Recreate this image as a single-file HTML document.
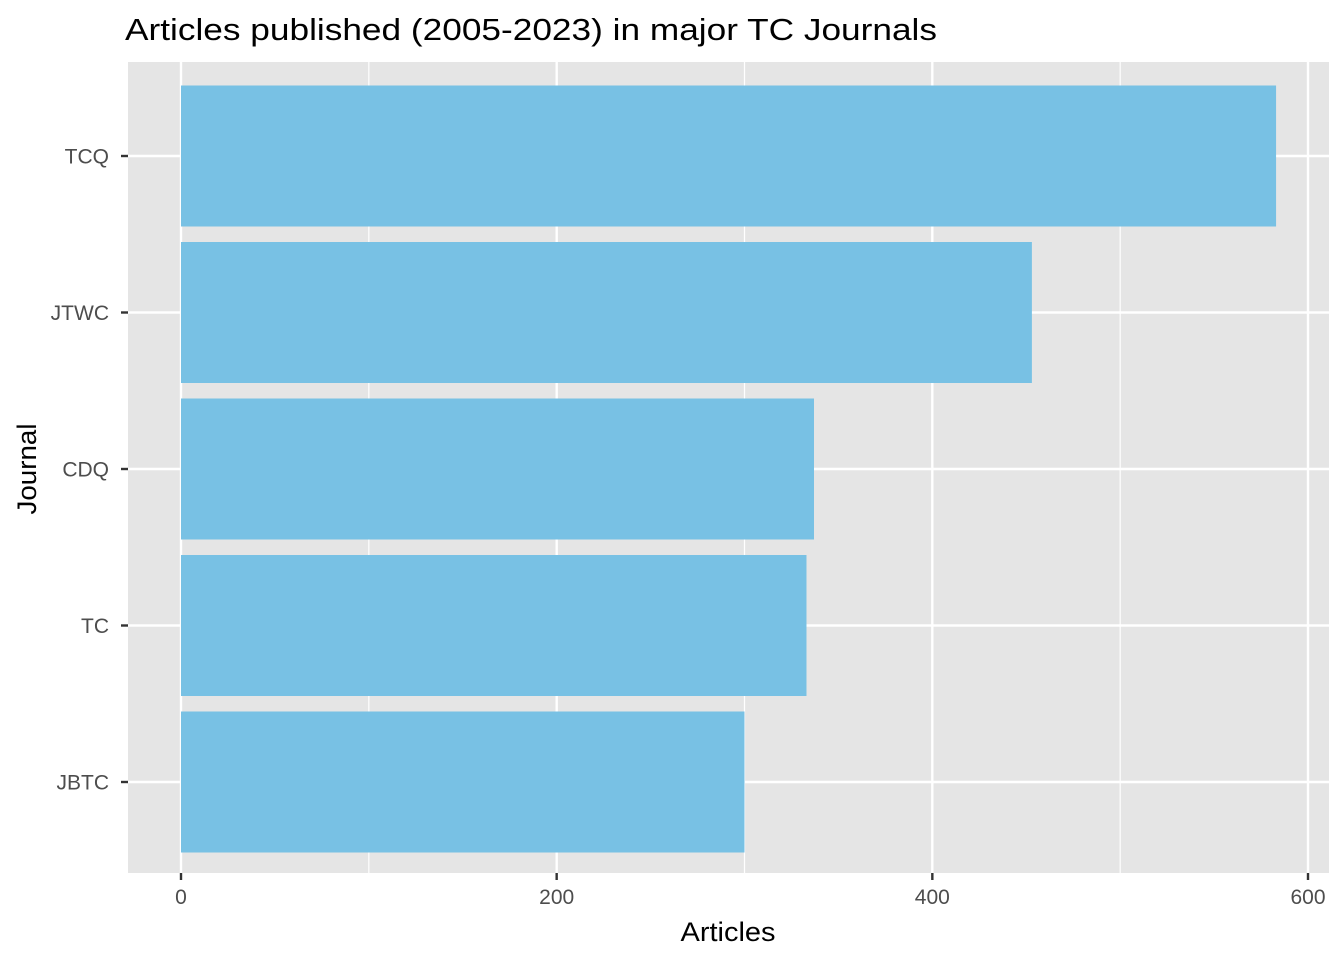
<!DOCTYPE html>
<html><head><meta charset="utf-8"><style>
body{margin:0;background:#fff;}
svg{display:block;font-family:"Liberation Sans",Arial,sans-serif;}
</style></head><body>
<svg id="chart" width="1344" height="960">
<text x="125" y="40" font-size="31" textLength="812" lengthAdjust="spacingAndGlyphs" fill="#000">Articles published (2005-2023) in major TC Journals</text>
<rect x="128" y="62" width="1201" height="811" fill="#e5e5e5"/>
<g id="grid"></g><g id="bars"></g><g id="axes"></g>
<text x="728" y="941" font-size="27" text-anchor="middle" textLength="95" lengthAdjust="spacingAndGlyphs" fill="#000">Articles</text>
<text transform="translate(36,469) rotate(-90)" font-size="27" text-anchor="middle" textLength="91" lengthAdjust="spacingAndGlyphs" fill="#000">Journal</text>
</svg>
<script>
const categories=["TCQ","JTWC","CDQ","TC","JBTC"];
const values=[583,453,337,333,300];
const xTicks=[0,200,400,600];
const xMinor=[100,300,500];
const ns="http://www.w3.org/2000/svg";
const x=v=>181+v*(1308-181)/600;
const step=156.5, y0=156;
const y=i=>y0+i*step;
function mk(tag,attrs,parent){const e=document.createElementNS(ns,tag);for(const k in attrs)e.setAttribute(k,attrs[k]);document.getElementById(parent).appendChild(e);return e;}
xMinor.forEach(v=>{const l=mk('line',{x1:x(v),x2:x(v),y1:62,y2:873,stroke:'#fff','stroke-width':1.2},'grid');

});
xTicks.forEach(v=>{const l=mk('line',{x1:x(v),x2:x(v),y1:62,y2:873,stroke:'#fff','stroke-width':2.4},'grid');


const t=mk('line',{x1:x(v),x2:x(v),y1:873,y2:880,stroke:'#333','stroke-width':2.4},'axes');


const tx=mk('text',{x:x(v),y:904,'font-size':21,'text-anchor':'middle',fill:'#4d4d4d'},'axes');tx.textContent=v;

});
categories.forEach((c,i)=>{const l=mk('line',{x1:128,x2:1329,y1:y(i),y2:y(i),stroke:'#fff','stroke-width':2.4},'grid');


const b=mk('rect',{x:x(0),y:y(i)-70.5,width:x(values[i])-x(0),height:141,fill:'#78c1e4'},'bars');


const t=mk('line',{x1:121,x2:128,y1:y(i),y2:y(i),stroke:'#333','stroke-width':2.4},'axes');


const tx=mk('text',{x:109,y:y(i)+7.5,'font-size':21,'text-anchor':'end',fill:'#4d4d4d'},'axes');tx.textContent=c;

});
</script>
</body></html>
